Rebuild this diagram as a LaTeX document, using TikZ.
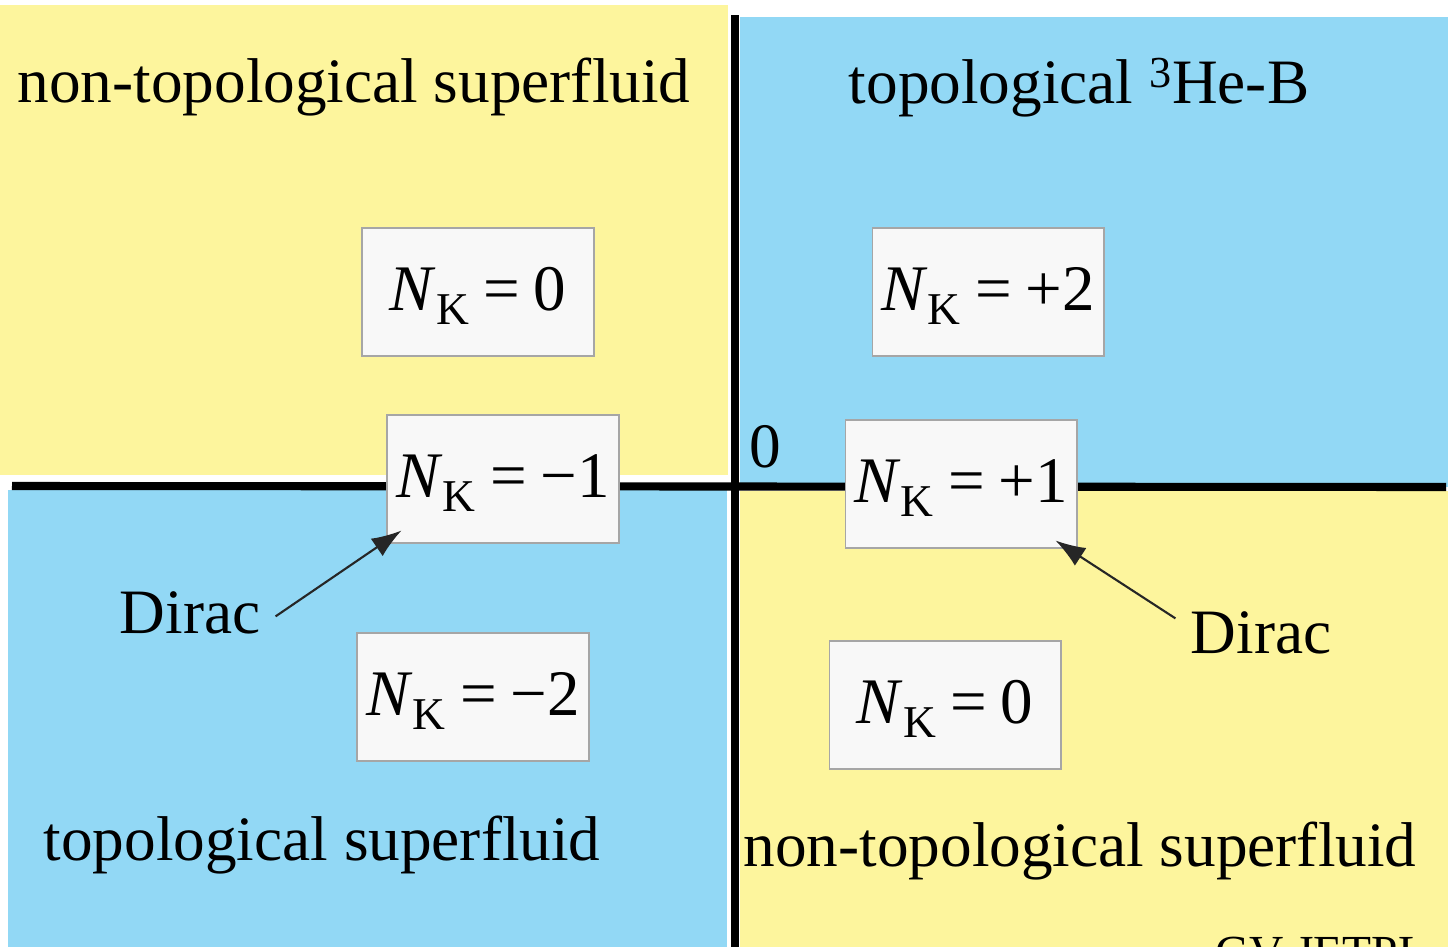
\documentclass[tikz,border=0pt]{standalone}
\usepackage{fontspec}
\setmainfont{Liberation Serif}
\usepackage{tikz}
\usetikzlibrary{arrows.meta}
\definecolor{phyellow}{RGB}{253,245,157}
\definecolor{phblue}{RGB}{146,216,245}
\definecolor{boxfill}{RGB}{248,248,248}
\newcommand{\NK}[1]{\textit{N}\textsubscript{K}\hspace{0.21em}=\hspace{0.21em}#1}

\begin{document}
\begin{tikzpicture}[x=0.02cm,y=-0.02cm,font=\fontsize{36}{40}\selectfont,
   nkbox/.style={draw=gray!70,line width=0.6pt,fill=boxfill,minimum width=4.64cm,minimum height=2.56cm,
                 inner sep=0pt,text height=1.0cm,text depth=0.28cm,font=\fontsize{37}{40}\selectfont},
   phase/.style={anchor=base,inner sep=0pt},
   axis/.style={line width=4.6pt,black},
   dirac/.style={-{Latex[length=17pt,width=12pt]},line width=1.2pt,black!85}]
\useasboundingbox (0,0) rectangle (1448,947);
% four quadrants
\fill[phyellow] (0,5) rectangle (728,475);
\fill[phblue] (740,17) rectangle (1448,487);
\fill[phblue] (8,490) rectangle (727,947);
\fill[phyellow] (740,491) rectangle (1448,947);
% axes
\coordinate (xl) at (12,486); \coordinate (xr) at (1446,487);
\coordinate (yt) at (735,15);  \coordinate (yb) at (735,947);
\draw[axis] (xl) -- (xr);
\draw[axis] (yt) -- (yb);
\node[phase] (zero) at (765,467) {0};
% phase names
\node[phase] (tlname) at (354,102) {non-topological superfluid};
\node[phase] (trname) at (1079,103) {topological \textsuperscript{3}He-B};
\node[phase] (blname) at (322,860) {topological superfluid};
\node[phase] (brname) at (1080,866) {non-topological superfluid};
% invariants
\node[nkbox] (nk0a) at (478,292) {\NK{0}};
\node[nkbox] (nkp2) at (988,292) {\NK{+2}};
\node[nkbox] (nkm1) at (503,479) {\NK{−1}};
\node[nkbox] (nkp1) at (961,484) {\NK{+1}};
\node[nkbox] (nkm2) at (473,697) {\NK{−2}};
\node[nkbox] (nk0b) at (945,705) {\NK{0}};
% Dirac points
\node[phase] (diracl) at (190,633) {Dirac};
\node[phase] (diracr) at (1261,653) {Dirac};
\coordinate (tipl) at ([xshift=0.3cm,yshift=0.26cm]nkm1.south west);
\coordinate (tipr) at ([xshift=-0.44cm,yshift=0.16cm]nkp1.south east);
\draw[dirac] (diracl.east) ++(15,4) -- (tipl);
\draw[dirac] (diracr.west) ++(-15,-14) -- (tipr);
\node[anchor=base west,inner sep=0pt,font=\fontsize{27}{30}\selectfont] (tag) at (1215,968) {GV-JETPL};
\end{tikzpicture}
\end{document}
